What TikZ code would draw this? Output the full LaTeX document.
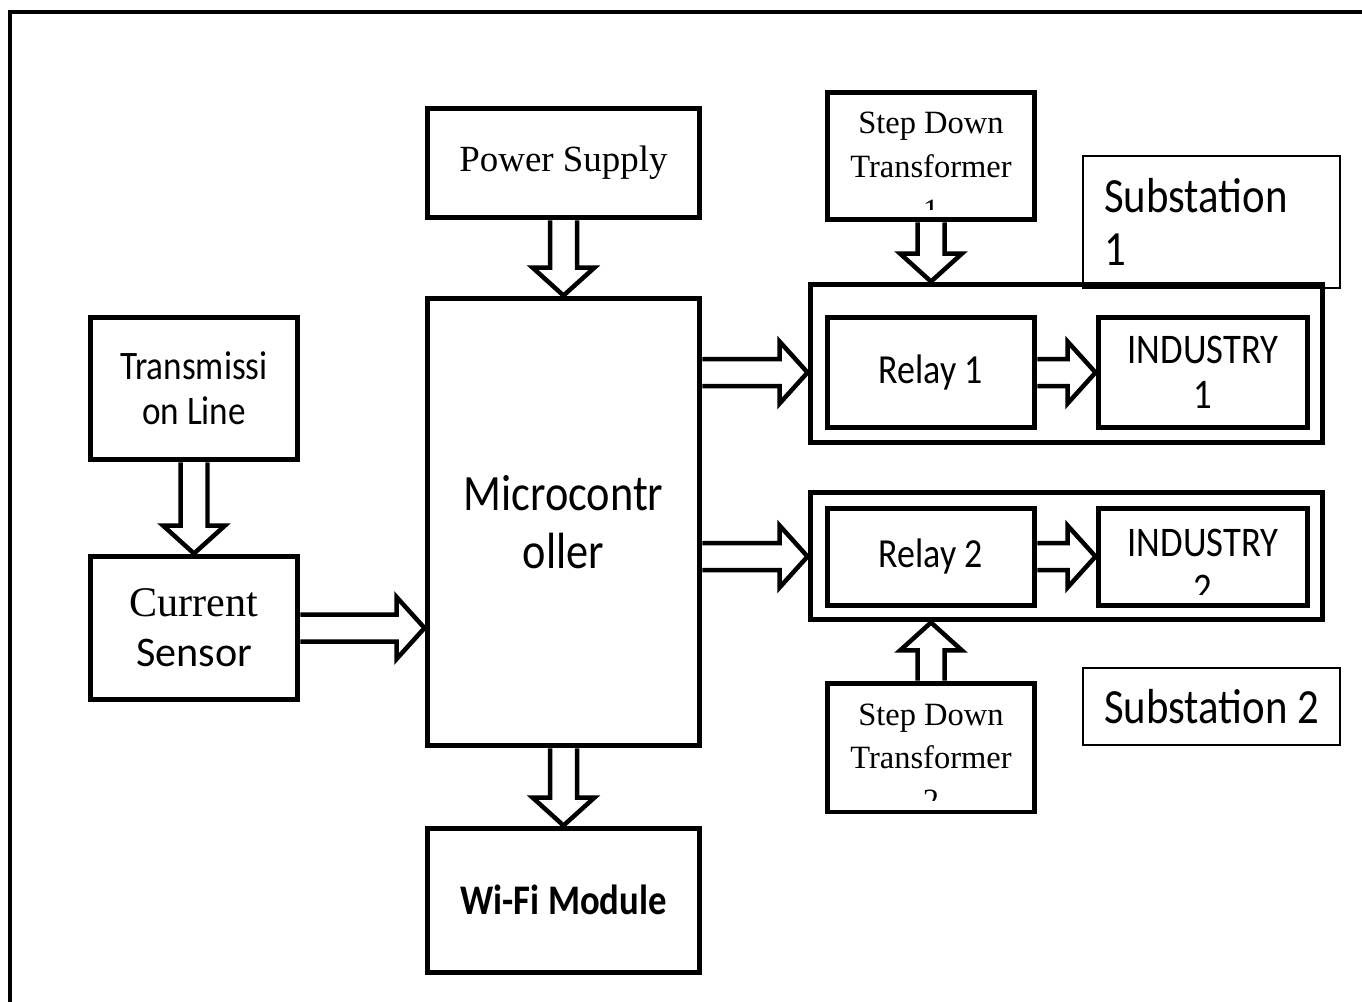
\documentclass[tikz,border=0pt]{standalone}
\usepackage{fontspec}
\setmainfont{Liberation Serif}
\newfontfamily\narrowsf[FakeStretch=0.87]{Carlito}
\newfontfamily\plainsf{Carlito}
\usetikzlibrary{calc}

\tikzset{
  block/.style = {draw, line width=0.1cm, inner sep=0pt, align=center},
  stationbox/.style = {draw, line width=0.1cm, inner sep=0pt},
  sublabel/.style = {draw, line width=0.04cm, inner xsep=0.42cm, inner ysep=0pt,
    text width=4.3cm, align=flush left, font=\narrowsf\fontsize{28}{30}\selectfont},
  blockarrow/.style = {line width=0.09cm, line join=miter, to path={
    ($(\tikztostart)!0.27cm!-90:(\tikztotarget)$)
    -- ($(\tikztotarget)!0.56cm!(\tikztostart)!0.27cm!-90:(\tikztotarget)$)
    -- ($(\tikztotarget)!0.56cm!(\tikztostart)!0.62cm!-90:(\tikztotarget)$)
    -- (\tikztotarget)
    -- ($(\tikztotarget)!0.56cm!(\tikztostart)!0.62cm!90:(\tikztotarget)$)
    -- ($(\tikztotarget)!0.56cm!(\tikztostart)!0.27cm!90:(\tikztotarget)$)
    -- ($(\tikztostart)!0.27cm!90:(\tikztotarget)$)}}
}

\begin{document}
\begin{tikzpicture}[x=0.02cm, y=-0.02cm]
    \clip (0,0) rectangle (1362,1001);
    \draw[line width=0.09cm] (10,1020) -- (10,12) -- (1380,12);

    % middle column
    \node[block, minimum width=5.46cm, minimum height=2.2cm, font=\fontsize{21}{25}\selectfont] (ps) at (563.5,163) {Power Supply};
    \node[block, minimum width=5.46cm, minimum height=8.96cm, font=\narrowsf\fontsize{29}{33}\selectfont] (mc) at (563.5,522) {Microcontr\\oller};
    \node[block, minimum width=5.46cm, minimum height=2.88cm, font=\narrowsf\bfseries\fontsize{24}{28}\selectfont] (wf) at (563.5,900) {Wi-Fi Module};

    % left column
    \node[block, minimum width=4.16cm, minimum height=2.86cm, font=\narrowsf\fontsize{23}{25.5}\selectfont] (tl) at (194,388.5) {Transmissi\\on Line};
    \node[block, minimum width=4.16cm, minimum height=2.88cm, font=\fontsize{24}{28.3}\selectfont] (cs) at (194,628) {Current\\{\plainsf Sensor}};

    % substation 1
    \node[sublabel, minimum height=2.64cm] (l1) at (1211.5,222) {Substation\\1};
    \node[stationbox, minimum width=10.26cm, minimum height=3.18cm] (s1) at (1066.5,363.5) {};
    \node[block, minimum width=4.16cm, minimum height=2.22cm, font=\narrowsf\fontsize{23.5}{26}\selectfont] (r1) at (931,372.5) {Relay 1};
    \node[block, minimum width=4.2cm, minimum height=2.22cm, font=\narrowsf\fontsize{24}{25.5}\selectfont] (i1) at (1203,372.5) {INDUSTRY\\1};
    \node[block, minimum width=4.16cm, minimum height=2.56cm, path picture={
        \clip (path picture bounding box.north west) rectangle ([yshift=0.2cm]path picture bounding box.south east);
        \node[inner sep=0pt, align=center, font=\fontsize{18.5}{25}\selectfont] at ([yshift=-0.22cm]path picture bounding box.center) {Step Down\\Transformer\\1};
    }] (t1) at (931,156) {};

    % substation 2
    \node[sublabel, minimum height=1.54cm] (l2) at (1211.5,706.5) {Substation~2};
    \node[stationbox, minimum width=10.26cm, minimum height=2.56cm] (s2) at (1066.5,556) {};
    \node[block, minimum width=4.16cm, minimum height=1.94cm, font=\narrowsf\fontsize{23.5}{26}\selectfont] (r2) at (931,556.5) {Relay 2};
    \node[block, minimum width=4.2cm, minimum height=1.94cm, path picture={
        \clip (path picture bounding box.north west) rectangle ([yshift=0.22cm]path picture bounding box.south east);
        \node[inner sep=0pt, align=center, font=\narrowsf\fontsize{24}{26.5}\selectfont] at ([yshift=-0.19cm]path picture bounding box.center) {INDUSTRY\\2};
    }] (i2) at (1203,556.5) {};
    \node[block, minimum width=4.16cm, minimum height=2.58cm, path picture={
        \clip (path picture bounding box.north west) rectangle ([yshift=0.24cm]path picture bounding box.south east);
        \node[inner sep=0pt, align=center, font=\fontsize{18.5}{24.5}\selectfont] at ([yshift=-0.21cm]path picture bounding box.center) {Step Down\\Transformer\\2};
    }] (t2) at (931,747.5) {};

    \path (mc.west |- cs.east) coordinate (mcin)
          (mc.east |- r1.west) coordinate (mcr1)
          (s1.west |- r1.west) coordinate (s1in)
          (mc.east |- r2.west) coordinate (mcr2)
          (s2.west |- r2.west) coordinate (s2in)
          (t1.south |- s1.north) coordinate (s1top)
          (t2.north |- s2.south) coordinate (s2bot);

    \draw[blockarrow] (ps.south) to (mc.north);
    \draw[blockarrow] (tl.south) to (cs.north);
    \draw[blockarrow] (cs.east) to (mcin);
    \draw[blockarrow] (mc.south) to (wf.north);
    \draw[blockarrow] (mcr1) to (s1in);
    \draw[blockarrow] (mcr2) to (s2in);
    \draw[blockarrow] (r1.east) to (i1.west);
    \draw[blockarrow] (r2.east) to (i2.west);
    \draw[blockarrow] (t1.south) to (s1top);
    \draw[blockarrow] (t2.north) to (s2bot);
\end{tikzpicture}
\end{document}
